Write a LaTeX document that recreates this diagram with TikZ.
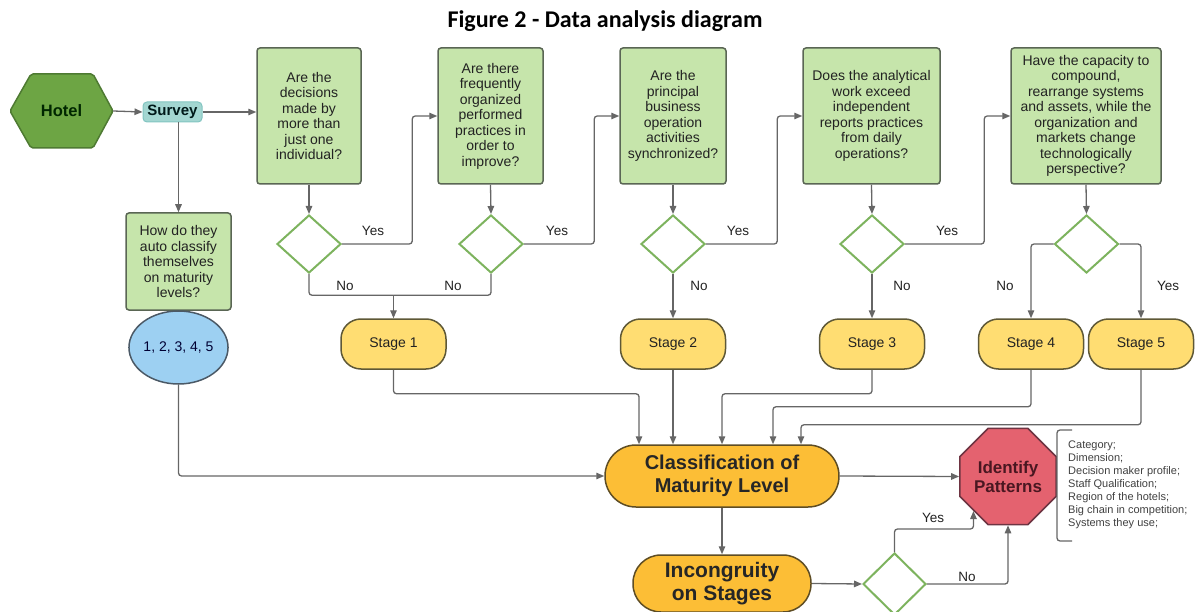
\documentclass[tikz,border=0pt]{standalone}
\usepackage{fontspec}
\setmainfont{Liberation Sans}
\newfontfamily\titlefont{Carlito}
\usetikzlibrary{shapes.geometric,arrows.meta,calc}

\definecolor{qfill}{HTML}{C6E5AB}
\definecolor{qdraw}{HTML}{5A6654}
\definecolor{hexfill}{HTML}{6DA544}
\definecolor{hexdraw}{HTML}{4E7A32}
\definecolor{survfill}{HTML}{A3D6D1}
\definecolor{dgreen}{HTML}{7DB35E}
\definecolor{stfill}{HTML}{FFDD72}
\definecolor{stdraw}{HTML}{5E5836}
\definecolor{clfill}{HTML}{FCBE36}
\definecolor{cldraw}{HTML}{5E4D24}
\definecolor{cifill}{HTML}{9DD0F2}
\definecolor{cidraw}{HTML}{4B5966}
\definecolor{ocfill}{HTML}{E4626F}
\definecolor{ocdraw}{HTML}{6E3442}
\definecolor{octext}{HTML}{4A1721}
\definecolor{lnc}{HTML}{666666}
\definecolor{txt}{HTML}{222222}

\begin{document}
\begin{tikzpicture}[x=1pt,y=-1pt,
  qbox/.style={draw=qdraw, fill=qfill, line width=1.5pt, rounded corners=3pt,
    minimum height=136, align=center, inner sep=0,
    font=\fontsize{14}{15.5}\selectfont, text=txt},
  dec/.style={diamond, draw=dgreen, fill=white, line width=2pt, inner sep=0,
    minimum width=64, minimum height=58},
  stagebox/.style={draw=stdraw, fill=stfill, line width=1.5pt, rounded corners=20pt,
    minimum width=105, minimum height=50, inner sep=0,
    font=\fontsize{14}{16}\selectfont, text=txt},
  term/.style={draw=cldraw, fill=clfill, line width=1.5pt, align=center, inner sep=0,
    font=\bfseries\fontsize{20}{23}\selectfont, text=black!85},
  conn/.style={draw=lnc, line width=1.3pt, rounded corners=3pt,
    -{Triangle[length=8pt,width=6.5pt]}},
  plain/.style={draw=lnc, line width=1.3pt, rounded corners=3pt},
  lbl/.style={font=\fontsize{13.5}{15}\selectfont, text=txt, inner sep=0}
]
\useasboundingbox (0,0) rectangle (1199,612);

% title
\node[font=\titlefont\bfseries\fontsize{24}{26}\selectfont] (title) at (605,21) {Figure 2 - Data analysis diagram};

% hotel hexagon
\draw[fill=hexfill, draw=hexdraw, line width=1.5pt, rounded corners=2pt]
  (10,111) -- (31,74) -- (93,74) -- (113,111) -- (93,148) -- (31,148) -- cycle;
\node[minimum width=103, minimum height=74, inner sep=0,
  font=\bfseries\fontsize{16.5}{18}\selectfont, text=black!85!green] (hotel) at (61.5,111) {Hotel};

\node[fill=survfill, draw=survfill!80!teal, line width=1pt, rounded corners=4pt,
  minimum width=59, minimum height=20, inner sep=0,
  font=\bfseries\fontsize{15}{17}\selectfont, text=black!80!teal] (survey) at (172.5,112) {Survey};

% question boxes
\node[qbox, minimum width=104] (q1) at (309,116) {Are the\\decisions\\made by\\more than\\just one\\individual?};
\node[qbox, minimum width=105] (q2) at (490.5,116) {Are there\\frequently\\organized\\performed\\practices in\\order to\\improve?};
\node[qbox, minimum width=106] (q3) at (673,116) {Are the\\principal\\business\\operation\\activities\\synchronized?};
\node[qbox, minimum width=137] (q4) at (871.5,116) {Does the analytical\\work exceed\\independent\\reports practices\\from daily\\operations?};
\node[qbox, minimum width=150] (q5) at (1086,116) {Have the capacity to\\compound,\\rearrange systems\\and assets, while the\\organization and\\markets change\\technologically\\perspective?};
\node[qbox, minimum width=105, minimum height=97] (q0) at (178.5,261.5) {How do they\\auto classify\\themselves\\on maturity\\levels?};

% circle
\node[ellipse, draw=cidraw, fill=cifill, line width=1.5pt, minimum width=91, minimum height=73,
  inner sep=0, font=\fontsize{14}{16}\selectfont, text=black!80!blue] (circ) at (178.5,347.5) {1, 2, 3, 4, 5};

% diamonds
\node[dec] (d1) at (309,244) {};
\node[dec] (d2) at (491,244) {};
\node[dec] (d3) at (673,244) {};
\node[dec] (d4) at (872,244) {};
\node[dec] (d5) at (1086.5,244) {};

% stages
\node[stagebox] (s1) at (393.5,344) {Stage 1};
\node[stagebox] (s2) at (673,344) {Stage 2};
\node[stagebox] (s3) at (872,344) {Stage 3};
\node[stagebox] (s4) at (1031,344) {Stage 4};
\node[stagebox] (s5) at (1141,344) {Stage 5};

% classification, incongruity
\node[term, rounded corners=31pt, minimum width=234, minimum height=62] (cls) at (722,476) {Classification of\\Maturity Level};
\node[term, rounded corners=28pt, minimum width=178, minimum height=57,
  font=\bfseries\fontsize{21}{23}\selectfont] (inc) at (722,583.5) {Incongruity\\on Stages};
\node[dec, minimum width=63, minimum height=62] (d6) at (894.5,584) {};

% octagon
\node[regular polygon, regular polygon sides=8, minimum size=104, inner sep=0,
  draw=ocdraw, fill=ocfill, line width=1.5pt, align=center,
  font=\bfseries\fontsize{17}{19}\selectfont, text=octext] (pat) at (1008,476.5) {Identify\\Patterns};

% list with bracket
\draw[plain] (1072,430) -- (1057,430) -- (1057,541) -- (1072,541);
\node[anchor=west, align=left, inner sep=0, font=\fontsize{11}{13}\selectfont, text=black!75] (list) at (1068,485)
  {Category;\\Dimension;\\Decision maker profile;\\Staff Qualification;\\Region of the hotels;\\Big chain in competition;\\Systems they use;};

% connectors top
\draw[conn] (hotel.east) -- (survey.west);
\draw[conn] (survey.east) -- (survey.east -| q1.west);
\draw[conn] (survey.south -| q0.north) -- (q0.north);

\draw[conn] (q1.south) -- (d1.north);
\draw[conn] (q2.south) -- (d2.north);
\draw[conn] (q3.south) -- (d3.north);
\draw[conn] (q4.south) -- (d4.north);
\draw[conn] (q5.south) -- (d5.north);

\draw[conn] (d1.east) -| ([xshift=-25pt]q2.west) -- (q2.west);
\draw[conn] (d2.east) -| ([xshift=-25pt]q3.west) -- (q3.west);
\draw[conn] (d3.east) -| ([xshift=-25pt]q4.west) -- (q4.west);
\draw[conn] (d4.east) -| ([xshift=-26pt]q5.west) -- (q5.west);

\coordinate (m1) at ($(s1.north)+(0,-23)$);
\draw[plain] (d1.south) |- (m1);
\draw[plain] (d2.south) |- (m1);
\draw[conn] (m1) -- (s1.north);
\draw[conn] (d3.south) -- (s2.north);
\draw[conn] (d4.south) -- (s3.north);
\draw[conn] (d5.west) -| (s4.north);
\draw[conn] (d5.east) -| (s5.north);

% connectors to classification
\draw[conn] (circ.south) |- (cls.west);
\draw[conn] (s1.south) -- ++(0,24) -| ([xshift=-83pt]cls.north);
\draw[conn] (s2.south) -- (s2.south |- cls.north);
\draw[conn] (s3.south) -- ++(0,24) -| (cls.north);
\draw[conn] (s4.south) -- ++(0,37) -| ([xshift=51pt]cls.north);
\draw[conn] (s5.south) -- ++(0,55) -| ([xshift=79pt]cls.north);

\draw[conn] (cls.east) -- (pat.west);
\draw[conn] (cls.south) -- (inc.north);
\draw[conn] (inc.east) -- (d6.west);
\draw[conn] (d6.north) -- ++(0,-23) -| (pat.225);
\draw[conn] (d6.east) -| (pat.south);

% labels
\node[lbl] (y1) at (373,231) {Yes};
\node[lbl] (n1) at (345,286) {No};
\node[lbl] (y2) at (557,231) {Yes};
\node[lbl] (n2) at (453,286) {No};
\node[lbl] (y3) at (738,231) {Yes};
\node[lbl] (n3) at (699,286) {No};
\node[lbl] (y4) at (947,231) {Yes};
\node[lbl] (n4) at (902,286) {No};
\node[lbl] (n5) at (1005,286) {No};
\node[lbl] (y5) at (1168,286) {Yes};
\node[lbl] (y6) at (933,518) {Yes};
\node[lbl] (n6) at (967,577) {No};
\end{tikzpicture}
\end{document}
